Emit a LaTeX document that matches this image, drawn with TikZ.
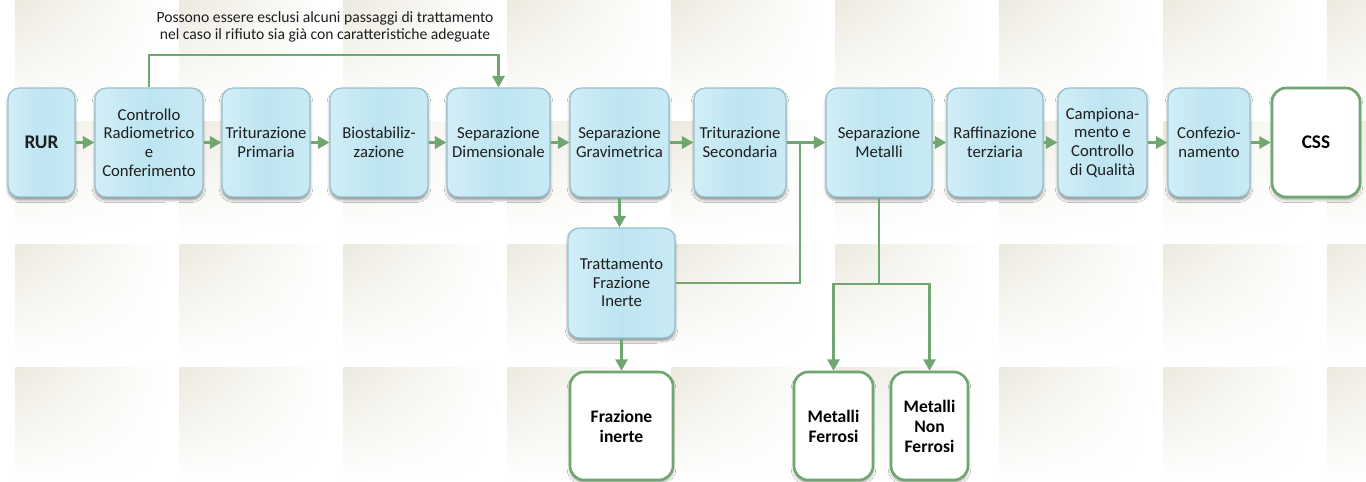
\documentclass[tikz,border=0pt]{standalone}
\usepackage{fontspec}
\setmainfont{Carlito}
\usepackage{tikz}
\usetikzlibrary{arrows.meta,shadows.blur,shadings}
\definecolor{verdefreccia}{RGB}{112,166,112}
\definecolor{azzurro}{RGB}{189,229,241}
\definecolor{azzurrochiaro}{RGB}{210,238,247}
\definecolor{bordoazzurro}{RGB}{150,194,207}
\definecolor{beigesfondo}{RGB}{236,233,222}
\definecolor{testo}{RGB}{30,30,30}
\tikzset{
  fase/.style={draw=bordoazzurro, line width=0.7pt, rounded corners=6.5pt,
    left color=azzurrochiaro, right color=azzurrochiaro!60!azzurro, middle color=azzurro,
    blur shadow={shadow xshift=0pt, shadow yshift=-1.6pt, shadow blur radius=1.6pt, shadow opacity=45},
    minimum height=2.18cm, inner sep=1pt, align=center, text=testo,
    font=\fontsize{9.5}{10.6}\selectfont, minimum width=#1},
  fase/.default=2cm,
  prodotto/.style={draw=verdefreccia, line width=1.5pt, rounded corners=8pt, fill=white,
    blur shadow={shadow xshift=0pt, shadow yshift=-1.6pt, shadow blur radius=1.6pt, shadow opacity=35},
    minimum height=2.16cm, inner sep=1pt, align=center, text=black,
    font=\bfseries\fontsize{10}{11.4}\selectfont, minimum width=#1},
  prodotto/.default=2cm,
  flusso/.style={draw=verdefreccia, line width=1.2pt, -{Triangle[length=6.5pt,width=7pt]}},
  tratto/.style={draw=verdefreccia, line width=1.2pt},
  nota/.style={align=center, text=testo, font=\fontsize{8.9}{9.9}\selectfont},
}

\begin{document}
\begin{tikzpicture}[x=0.02cm, y=-0.02cm]
  \useasboundingbox (0,0) rectangle (1366,482);
  % sfondo a riquadri
  \foreach \i in {0,...,8}
    \foreach \j in {0,...,3}
      \shade[upper left=beigesfondo, upper right=white, lower left=white, lower right=white]
        ({15+164*\i},{-1+123*\j}) rectangle ++(150,115);

  % linea principale
  \node[fase=1.34cm, font=\bfseries\fontsize{11}{13}\selectfont] (rur) at (41.5,142.5) {RUR};
  \node[fase=2.16cm] (ctrl) at (149,142.5) {Controllo\\Radiometrico\\e\\Conferimento};
  \node[fase=1.76cm] (trip) at (266,142.5) {Triturazione\\Primaria};
  \node[fase=1.96cm] (bios) at (379,142.5) {Biostabiliz-\\zazione};
  \node[fase=2.06cm] (sdim) at (498.5,142.5) {Separazione\\Dimensionale};
  \node[fase=1.98cm] (sgrav) at (619.5,142.5) {Separazione\\Gravimetrica};
  \node[fase=1.84cm] (tris) at (740,142.5) {Triturazione\\Secondaria};
  \node[fase=2.12cm] (smet) at (879,142.5) {Separazione\\Metalli};
  \node[fase=1.92cm] (raff) at (995,142.5) {Raffinazione\\terziaria};
  \node[fase=1.78cm] (camp) at (1102.5,142.5) {Campiona-\\mento e\\Controllo\\di Qualità};
  \node[fase=1.64cm] (conf) at (1209,142.5) {Confezio-\\namento};
  \node[prodotto=1.76cm, minimum height=2.18cm, font=\bfseries\fontsize{11}{13}\selectfont] (css) at (1316,142.5) {CSS};

  % rami
  \node[fase=2.14cm, minimum height=2.2cm] (tfi) at (621.5,283) {Trattamento\\Frazione\\Inerte};
  \node[prodotto=2.06cm] (fin) at (621.5,426) {Frazione\\inerte};
  \node[prodotto=1.58cm] (mf) at (833.5,426) {Metalli\\Ferrosi};
  \node[prodotto=1.54cm] (mnf) at (929.5,426) {Metalli\\Non\\Ferrosi};

  \node[nota] (avviso) at (325,27) {Possono essere esclusi alcuni passaggi di trattamento\\nel caso il rifiuto sia già con caratteristiche adeguate};

  % collegamenti
  \foreach \a/\b in {rur/ctrl, ctrl/trip, trip/bios, bios/sdim, sdim/sgrav, sgrav/tris,
                     tris/smet, smet/raff, raff/camp, camp/conf, conf/css}
    \draw[flusso] (\a) -- (\b);

  \coordinate (salto) at (498.5,55);
  \draw[flusso] (ctrl.north) |- (salto) -- (sdim.north);

  \draw[flusso] (sgrav.south) -- (sgrav.south |- tfi.north);
  \draw[flusso] (tfi.south) -- (fin.north);
  \coordinate (innesto) at (800,142.5);
  \draw[tratto] (tfi.east) -| (innesto);

  \coordinate (bivio) at (879,284);
  \draw[tratto] (smet.south) -- (bivio);
  \draw[flusso] (bivio) -| (mf.north);
  \draw[flusso] (bivio) -| (mnf.north);
\end{tikzpicture}
\end{document}
